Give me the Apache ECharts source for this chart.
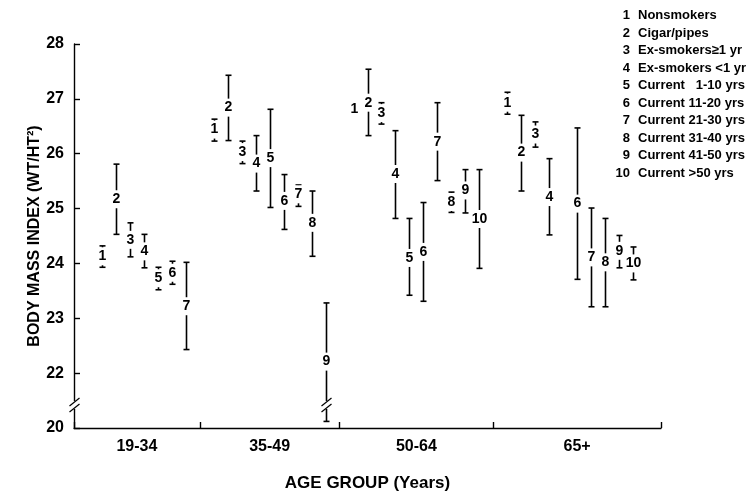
<!DOCTYPE html>
<html>
<head>
<meta charset="utf-8">
<script src="https://cdn.jsdelivr.net/npm/echarts@6/dist/echarts.min.js"></script>
<style>
  html, body { margin: 0; padding: 0; background: #fff; }
  #chart { width: 750px; height: 497px; }
</style>
</head>
<body>
<div id="chart"></div>
<script>
// age groups on the x axis
var groups = ['19-34', '35-49', '50-64', '65+']
var groupStart = [0, 8, 18, 29] // x slot of smoking group 1 in each age group
var groupMid = [2.5, 12, 22.5, 34]
var groupEdges = [-2, 7, 17, 28, 40]

// smoking status key
var codes = ['1', '2', '3', '4', '5', '6', '7', '8', '9', '10']
var codeNames = ['Nonsmokers', 'Cigar/pipes', 'Ex-smokers\u22651 yr', 'Ex-smokers <1 yr',
  'Current   1-10 yrs', 'Current 11-20 yrs', 'Current 21-30 yrs', 'Current 31-40 yrs',
  'Current 41-50 yrs', 'Current >50 yrs']

// 19-34
var code1934 = [1, 2, 3, 4, 5, 6, 7]
var mean1934 = [24.13, 25.17, 24.43, 24.22, 23.73, 23.83, 23.22]
var lo1934 = [23.93, 24.53, 24.12, 23.92, 23.52, 23.62, 22.43]
var hi1934 = [24.32, 25.81, 24.74, 24.53, 23.93, 24.04, 24.02]
// 35-49
var code3549 = [1, 2, 3, 4, 5, 6, 7, 8, 9]
var mean3549 = [26.44, 26.84, 26.03, 25.82, 25.92, 25.14, 25.26, 24.74, 22.21]
var lo3549 = [26.23, 26.24, 25.82, 25.32, 25.02, 24.62, 25.04, 24.13, 21.12]
var hi3549 = [26.63, 27.43, 26.23, 26.33, 26.81, 25.62, 25.43, 25.32, 23.28]
// 50-64
var code5064 = [1, 2, 3, 4, 5, 6, 7, 8, 9, 10]
var mean5064 = [26.82, 26.93, 26.74, 25.63, 24.1, 24.21, 26.22, 25.12, 25.33, 24.81]
var lo5064 = [26.69, 26.33, 26.54, 24.82, 23.42, 23.31, 25.51, 24.93, 24.92, 23.91]
var hi5064 = [26.94, 27.54, 26.93, 26.42, 24.82, 25.11, 26.93, 25.3, 25.71, 25.71]
// 65+
var code65 = [1, 2, 3, 4, 6, 7, 8, 9, 10]
var mean65 = [26.93, 26.02, 26.35, 25.21, 25.09, 24.11, 24.02, 24.23, 24.0]
var lo65 = [26.72, 25.32, 26.12, 24.52, 23.71, 23.21, 23.21, 23.92, 23.7]
var hi65 = [27.12, 26.7, 26.58, 25.91, 26.47, 25.01, 24.82, 24.51, 24.3]

// where the axis / a bar is broken (x slot, value)
var breakPoints = [[-2, 21.42], [16, 21.42]]

var FONT = "'Liberation Sans', Arial, sans-serif"

function buildRows(g, code, mean, lo, hi) {
  return code.map(function (c, i) {
    return [groupStart[g] + c - 1, mean[i], lo[i], hi[i], c]
  })
}

var rows = []
  .concat(buildRows(0, code1934, mean1934, lo1934, hi1934))
  .concat(buildRows(1, code3549, mean3549, lo3549, hi3549))
  .concat(buildRows(2, code5064, mean5064, lo5064, hi5064))
  .concat(buildRows(3, code65, mean65, lo65, hi65))

var chart = echarts.init(document.getElementById('chart'), null, { renderer: 'canvas' })

// key in the top right corner
var keyItems = []
codes.forEach(function (c, i) {
  keyItems.push({
    type: 'text',
    right: 120,
    top: 9 + i * 17.5,
    style: { text: c, font: 'bold 13px ' + FONT, fill: '#000', align: 'right' }
  })
  keyItems.push({
    type: 'text',
    left: 638,
    top: 9 + i * 17.5,
    style: { text: codeNames[i], font: 'bold 13px ' + FONT, fill: '#000' }
  })
})

chart.setOption({
  backgroundColor: '#fff',
  animation: false,
  grid: { left: 74, right: 89, top: 44, bottom: 62, containLabel: false },
  xAxis: {
    type: 'value',
    min: -2,
    max: 40,
    name: 'AGE GROUP (Years)',
    nameLocation: 'middle',
    nameGap: 47,
    nameTextStyle: { color: '#000', fontFamily: FONT, fontWeight: 'bold', fontSize: 17 },
    axisLine: { show: true, onZero: false, lineStyle: { color: '#000', width: 1.4 } },
    axisTick: { show: true, inside: true, length: 6, customValues: groupEdges, lineStyle: { color: '#000', width: 1.4 } },
    axisLabel: {
      customValues: groupMid,
      margin: 11,
      color: '#000',
      fontFamily: FONT,
      fontWeight: 'bold',
      fontSize: 16,
      formatter: function (v) {
        return groups[groupMid.indexOf(v)]
      }
    },
    splitLine: { show: false }
  },
  yAxis: {
    type: 'value',
    min: 21,
    max: 28,
    interval: 1,
    name: 'BODY MASS INDEX (WT/HT\u00b2)',
    nameLocation: 'middle',
    nameGap: 31,
    nameMoveOverlap: false,
    nameTextStyle: { color: '#000', fontFamily: FONT, fontWeight: 'bold', fontSize: 16 },
    axisLine: { show: true, onZero: false, lineStyle: { color: '#000', width: 1.4 } },
    axisTick: { show: true, inside: true, length: 6, lineStyle: { color: '#000', width: 1.4 } },
    axisLabel: {
      margin: 10,
      color: '#000',
      fontFamily: FONT,
      fontWeight: 'bold',
      fontSize: 16,
      formatter: function (v) {
        return v === 21 ? '20' : String(v)
      }
    },
    splitLine: { show: false }
  },
  graphic: keyItems,
  series: [
    {
      type: 'custom',
      name: 'bmi',
      data: rows,
      encode: { x: 0, y: [1, 2, 3] },
      z: 3,
      renderItem: function (params, api) {
        var pm = api.coord([api.value(0), api.value(1)])
        var pl = api.coord([api.value(0), api.value(2)])
        var ph = api.coord([api.value(0), api.value(3)])
        var x = Math.round(pm[0]) + 0.5
        var st = { stroke: '#000', lineWidth: 1.6 }
        return {
          type: 'group',
          children: [
            { type: 'line', shape: { x1: x, y1: ph[1], x2: x, y2: pl[1] }, style: st },
            { type: 'line', shape: { x1: x - 3, y1: ph[1], x2: x + 3, y2: ph[1] }, style: st },
            { type: 'line', shape: { x1: x - 3, y1: pl[1], x2: x + 3, y2: pl[1] }, style: st },
            {
              type: 'text',
              style: {
                text: String(api.value(4)),
                x: x,
                y: pm[1],
                align: 'center',
                verticalAlign: 'middle',
                font: 'bold 14px ' + FONT,
                fill: '#000',
                backgroundColor: '#fff',
                padding: [2, 1, 2, 1]
              }
            }
          ]
        }
      }
    },
    {
      type: 'custom',
      name: 'breaks',
      data: breakPoints,
      z: 4,
      silent: true,
      renderItem: function (params, api) {
        var p = api.coord([api.value(0), api.value(1)])
        var x = Math.round(p[0]) + 0.5
        var y = p[1]
        var st = { stroke: '#000', lineWidth: 1.3 }
        return {
          type: 'group',
          children: [
            { type: 'rect', shape: { x: x - 2, y: y - 4, width: 4, height: 8 }, style: { fill: '#fff' } },
            { type: 'line', shape: { x1: x - 5, y1: y + 1, x2: x + 5, y2: y - 7 }, style: st },
            { type: 'line', shape: { x1: x - 5, y1: y + 7, x2: x + 5, y2: y - 1 }, style: st }
          ]
        }
      }
    }
  ]
})
</script>
</body>
</html>
